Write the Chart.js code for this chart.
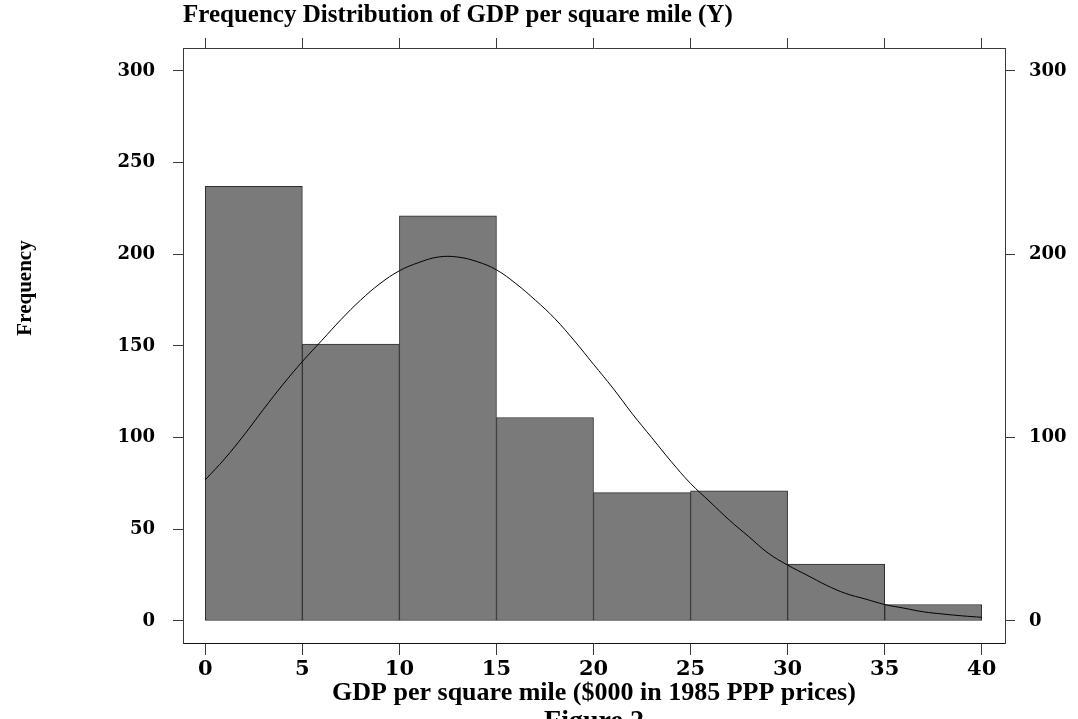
<!DOCTYPE html>
<html>
<head>
<meta charset="utf-8">
<title>Frequency Distribution of GDP per square mile</title>
<script src="https://cdn.jsdelivr.net/npm/chart.js@4.4.1/dist/chart.umd.min.js"></script>
<style>
  html, body { margin: 0; padding: 0; background: #fff; }
  #wrap { width: 1078px; height: 719px; overflow: hidden; }
</style>
</head>
<body>
<div id="wrap"><canvas id="histChart" width="1078" height="719"></canvas></div>
<script>
// ── Histogram data ──
const binCenters = [2.5, 7.5, 12.5, 17.5, 22.5, 27.5, 32.5, 37.5];
const binCounts  = [237, 151, 221, 111, 70, 71, 31, 9];

// ── Normal curve ──
const curveX = [0, 1, 2, 3, 4, 5, 6, 7, 8, 9, 10, 11, 12, 13, 14, 15, 16, 17, 18, 19, 20,
                21, 22, 23, 24, 25, 26, 27, 28, 29, 30, 31, 32, 33, 34, 35, 36, 37, 38, 39, 40];
const curveY = [77, 88.5, 101.5, 115.5, 129, 141.5, 153, 164.5, 175, 184, 191, 195.5, 198.5, 198.5, 196, 191.5, 184, 175, 165, 153, 140,
                127, 113, 100, 87, 75, 65, 55, 46, 37, 30.5, 25, 19.5, 15, 12, 9, 7, 5, 3.8, 2.8, 2];

// ── Tick labels ──
const xTicks      = [0, 5, 10, 15, 20, 25, 30, 35, 40];
const yLeftTicks  = [0, 50, 100, 150, 200, 250, 300];
const yRightTicks = [0, 100, 200, 300];

const titleText  = 'Frequency Distribution of GDP per square mile (Y)';
const xTitleText = 'GDP per square mile ($000 in 1985 PPP prices)';
const yTitleText = 'Frequency';
const figText    = 'Figure 2';

const AXIS_COLOR = '#3a3a3a';
const yTickFont = { family: '"DejaVu Serif", serif', size: 18, weight: 'bold' };
const xTickFont = { family: '"DejaVu Serif", serif', size: 21, weight: 'bold' };

function fixedTicks(list) {
  return scale => { scale.ticks = list.map(v => ({ value: v })); };
}

function axisGrid(len) {
  return { drawOnChartArea: false, drawTicks: true, tickLength: len, color: AXIS_COLOR, lineWidth: 1, offset: false };
}

// ── Extra text: title, axis titles, figure caption ──
const textPlugin = {
  id: 'extraText',
  afterDraw(chart) {
    const c = chart.ctx;
    const a = chart.chartArea;
    const mid = (a.left + a.right) / 2;
    c.save();
    c.fillStyle = '#000';
    c.textBaseline = 'alphabetic';

    c.font = 'bold 25px "Liberation Serif"';
    c.textAlign = 'left';
    c.fillText(titleText, a.left, 22);

    c.textAlign = 'center';
    c.font = 'bold 26px "Liberation Serif"';
    c.fillText(xTitleText, mid, 700);

    c.font = 'bold 28px "Liberation Serif"';
    c.fillText(figText, mid, 729);

    c.translate(31, 288);
    c.rotate(-Math.PI / 2);
    c.font = 'bold 21px "Liberation Serif"';
    c.fillText(yTitleText, 0, 0);
    c.restore();
  }
};

function initHistogram() {
  const ctx = document.getElementById('histChart');

  new Chart(ctx, {
    data: {
      datasets: [
        {
          type: 'line',
          label: 'Normal',
          data: curveX.map((x, i) => ({ x, y: curveY[i] })),
          borderColor: '#000',
          borderWidth: 1,
          pointRadius: 0,
          tension: 0.4,
          fill: false,
          order: 0
        },
        {
          type: 'bar',
          label: 'Frequency',
          data: binCenters.map((x, i) => ({ x, y: binCounts[i] })),
          backgroundColor: '#7a7a7a',
          borderColor: '#2e2e2e',
          borderWidth: 1,
          borderSkipped: false,
          barPercentage: 1,
          categoryPercentage: 1,
          order: 1
        }
      ]
    },
    options: {
      responsive: false,
      animation: false,
      layout: { padding: 0 },
      plugins: {
        legend: { display: false },
        tooltip: { enabled: false }
      },
      scales: {
        x: {
          type: 'linear', position: 'bottom', min: -1.15, max: 41.2, offset: false,
          afterBuildTicks: fixedTicks(xTicks),
          afterFit: s => { s.height = 76; },
          grid: axisGrid(12),
          border: { display: true, color: '#111', width: 1 },
          ticks: { color: '#000', font: xTickFont, padding: 2, maxRotation: 0, autoSkip: false }
        },
        x2: {
          type: 'linear', position: 'top', min: -1.15, max: 41.2, offset: false,
          afterBuildTicks: fixedTicks(xTicks),
          afterFit: s => { s.height = 48; },
          grid: axisGrid(10),
          border: { display: true, color: AXIS_COLOR, width: 1 },
          ticks: { display: false }
        },
        y: {
          type: 'linear', position: 'left', min: -12, max: 312.5,
          afterBuildTicks: fixedTicks(yLeftTicks),
          afterFit: s => { s.width = 183; },
          grid: axisGrid(10),
          border: { display: true, color: AXIS_COLOR, width: 1 },
          ticks: { color: '#000', font: yTickFont, padding: 18, autoSkip: false }
        },
        y2: {
          type: 'linear', position: 'right', min: -12, max: 312.5,
          afterBuildTicks: fixedTicks(yRightTicks),
          afterFit: s => { s.width = 73; },
          grid: axisGrid(10),
          border: { display: true, color: AXIS_COLOR, width: 1 },
          ticks: { color: '#000', font: yTickFont, padding: 14, autoSkip: false }
        }
      }
    },
    plugins: [textPlugin]
  });
}

document.addEventListener('DOMContentLoaded', initHistogram);
</script>
</body>
</html>
